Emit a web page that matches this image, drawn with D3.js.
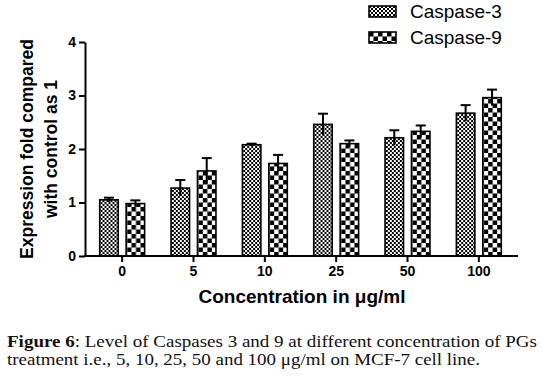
<!DOCTYPE html>
<html>
<head>
<meta charset="utf-8">
<script src="https://cdn.jsdelivr.net/npm/d3@7"></script>
<style>
  body { margin: 0; background: #fff; }
  svg { display: block; }
  .sans { font-family: "Liberation Sans", Arial, sans-serif; }
  .serif { font-family: "Liberation Serif", "Times New Roman", serif; }
</style>
</head>
<body>
<svg id="chart" width="543" height="380"></svg>
<script>
// Data
const categories = ["0", "5", "10", "25", "50", "100"];
const caspase3 = [1.05, 1.27, 2.08, 2.46, 2.21, 2.67];
const caspase3Err = [0.04, 0.15, 0.02, 0.2, 0.14, 0.15];
const caspase9 = [0.98, 1.59, 1.73, 2.1, 2.33, 2.96];
const caspase9Err = [0.06, 0.24, 0.16, 0.06, 0.11, 0.15];
const seriesNames = ["Caspase-3", "Caspase-9"];
const yTicks = [0, 1, 2, 3, 4];

const svg = d3.select("#chart");
svg.append("rect").attr("width", 543).attr("height", 380).attr("fill", "#fff");

// Patterns: fine check for Caspase-3, coarse check for Caspase-9
const defs = svg.append("defs");
function checker(id, size) {
    const p = defs.append("pattern")
        .attr("id", id)
        .attr("patternUnits", "userSpaceOnUse")
        .attr("width", size * 2)
        .attr("height", size * 2);
    p.append("rect").attr("width", size * 2).attr("height", size * 2).attr("fill", "#fff");
    p.append("rect").attr("width", size).attr("height", size).attr("fill", "#000");
    p.append("rect").attr("x", size).attr("y", size).attr("width", size).attr("height", size).attr("fill", "#000");
}
checker("pat3", 2);
checker("pat9", 4.5);
const fills = ["url(#pat3)", "url(#pat9)"];

// Scales
const x0 = d3.scaleBand().domain(categories).range([86.5, 514.5]);
const x1 = d3.scaleBand().domain(seriesNames).range([0, x0.bandwidth()])
    .paddingInner(0.3).paddingOuter(0.5);
const y = d3.scaleLinear().domain([0, 4]).range([256, 42]);

const data = categories.map((c, i) => ({
    cat: c,
    vals: [
        { name: seriesNames[0], v: caspase3[i], e: caspase3Err[i], fill: fills[0] },
        { name: seriesNames[1], v: caspase9[i], e: caspase9Err[i], fill: fills[1] }
    ]
}));

// Bars
const groups = svg.append("g").selectAll("g")
    .data(data)
    .join("g")
    .attr("transform", d => `translate(${x0(d.cat)},0)`);

groups.selectAll("rect")
    .data(d => d.vals)
    .join("rect")
    .attr("x", d => x1(d.name))
    .attr("y", d => y(d.v))
    .attr("width", x1.bandwidth())
    .attr("height", d => y(0) - y(d.v))
    .attr("fill", d => d.fill)
    .attr("stroke", "#000")
    .attr("stroke-width", 1.6);

// Error bars (upper cap only)
const err = groups.selectAll("g.err")
    .data(d => d.vals)
    .join("g")
    .attr("class", "err")
    .attr("stroke", "#000")
    .attr("stroke-width", 2);
err.append("line")
    .attr("x1", d => x1(d.name) + x1.bandwidth() / 2)
    .attr("x2", d => x1(d.name) + x1.bandwidth() / 2)
    .attr("y1", d => y(d.v - d.e))
    .attr("y2", d => y(d.v + d.e));
err.append("line")
    .attr("x1", d => x1(d.name) + x1.bandwidth() / 2 - 5)
    .attr("x2", d => x1(d.name) + x1.bandwidth() / 2 + 5)
    .attr("y1", d => y(d.v + d.e))
    .attr("y2", d => y(d.v + d.e));

// Y axis
const yAxis = svg.append("g")
    .attr("class", "sans")
    .attr("transform", "translate(85,0)")
    .call(d3.axisLeft(y).tickValues(yTicks).tickFormat(d3.format("d"))
        .tickSize(6).tickSizeOuter(0).tickPadding(3));
yAxis.selectAll("path, line").attr("stroke", "#000").attr("stroke-width", 2);
yAxis.selectAll("text").attr("font-size", 14).attr("font-weight", "bold").attr("fill", "#000");

// X axis
svg.append("line")
    .attr("x1", 84).attr("x2", 518)
    .attr("y1", y(0)).attr("y2", y(0))
    .attr("stroke", "#000").attr("stroke-width", 2);
const xAxis = svg.append("g")
    .attr("class", "sans")
    .attr("transform", `translate(0,${y(0)})`)
    .call(d3.axisBottom(x0).tickSize(6).tickPadding(4));
xAxis.select(".domain").remove();
xAxis.selectAll("line").attr("stroke", "#000").attr("stroke-width", 2);
xAxis.selectAll("text").attr("font-size", 14).attr("font-weight", "bold").attr("fill", "#000");

// Axis titles
const yTitle = svg.append("text")
    .attr("class", "sans")
    .attr("transform", "translate(0,149) rotate(-90)")
    .attr("text-anchor", "middle")
    .attr("font-size", 17.5)
    .attr("font-weight", "bold");
yTitle.append("tspan").attr("x", 0).attr("y", 33).text("Expression fold compared");
yTitle.append("tspan").attr("x", 0).attr("y", 57).text("with control as 1");

svg.append("text")
    .attr("class", "sans")
    .attr("x", 302).attr("y", 303)
    .attr("text-anchor", "middle")
    .attr("font-size", 19)
    .attr("font-weight", "bold")
    .text("Concentration in μg/ml");

// Legend
const legend = svg.append("g").attr("class", "sans")
    .selectAll("g")
    .data(seriesNames)
    .join("g")
    .attr("transform", (d, i) => `translate(369,${6 + i * 26})`);
legend.append("rect")
    .attr("width", 27).attr("height", 11)
    .attr("fill", (d, i) => fills[i])
    .attr("stroke", "#000").attr("stroke-width", 1.6);
legend.append("text")
    .attr("x", 41).attr("y", 12)
    .attr("font-size", 19)
    .text(d => d);

// Caption
const cap1 = svg.append("text").attr("class", "serif")
    .attr("font-size", 16.5).attr("fill", "#111")
    .attr("x", 7).attr("y", 347)
    .attr("textLength", 530).attr("lengthAdjust", "spacingAndGlyphs");
cap1.append("tspan").attr("font-weight", "bold").text("Figure 6");
cap1.append("tspan").text(": Level of Caspases 3 and 9 at different concentration of PGs");
svg.append("text").attr("class", "serif")
    .attr("font-size", 16.5).attr("fill", "#111")
    .attr("x", 7).attr("y", 365)
    .attr("textLength", 473).attr("lengthAdjust", "spacingAndGlyphs")
    .text("treatment i.e., 5, 10, 25, 50 and 100 μg/ml on MCF-7 cell line.");
</script>
</body>
</html>
